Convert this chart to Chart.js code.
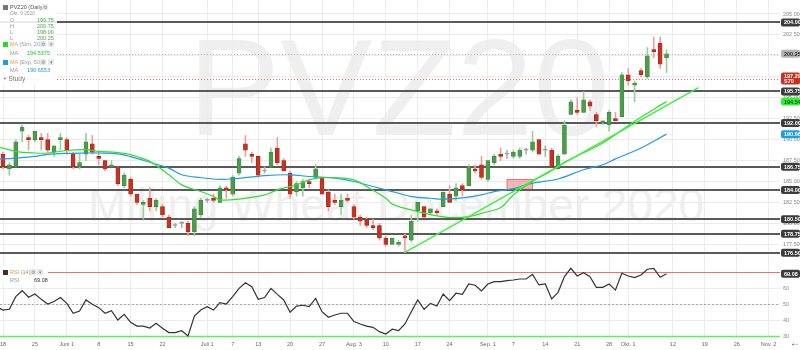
<!DOCTYPE html>
<html>
<head>
<meta charset="utf-8">
<title>PVZ20 Daily</title>
<script src="https://cdn.jsdelivr.net/npm/chart.js@4.4.1/dist/chart.umd.min.js"></script>
<style>
  body { margin: 0; width: 800px; height: 350px; overflow: hidden; background: #fff; position: relative; font-family: "Liberation Sans", Arial, sans-serif; }
  .wm { position: absolute; color: #efefef; white-space: nowrap; line-height: 1; font-family: "Liberation Sans", Arial, sans-serif; }
  #wm1 { left: 188px; top: 18px; font-size: 138px; }
  #wm2 { left: 88px; top: 182px; font-size: 46px; }
  canvas { position: absolute; left: 0; }
  .leg { position: absolute; left: 0; background: rgba(255,255,255,0.88); }
  .leg span { position: absolute; white-space: nowrap; line-height: 1; font-size: 5.5px; color: #999; }
  .leg .sq { width: 5px; height: 5px; }
  .leg .btn { width: 6px; height: 6px; background: #e8e8e8; border-radius: 1px; color: #888; font-size: 5px; text-align: center; line-height: 6px; }
  .leg .or { color: #f0a040; font-weight: normal; }
  #arrow { position: absolute; left: 790px; top: 337px; font-size: 10px; color: #444; font-weight: bold; }
</style>
</head>
<body>
<div class="wm" id="wm1">PVZ20</div>
<div class="wm" id="wm2">Milling Wheat December 2020</div>
<canvas id="price" width="800" height="262" style="top:0"></canvas>
<canvas id="rsi" width="800" height="88" style="top:262px"></canvas>

<div class="leg" style="top:0;width:57px;height:85px">
  <span class="sq" style="left:3px;top:5px;background:#777"></span>
  <span style="left:10px;top:5px;color:#555">PVZ20 (Daily)</span>
  <span class="btn" style="left:42px;top:4px">⚙</span>
  <span style="left:10px;top:12px;font-size:4.8px">Okt. 9 2020</span>
  <span style="left:10px;top:18px">O</span><span style="left:37px;top:18px;color:#4aa84a">199.75</span>
  <span style="left:10px;top:24px">H</span><span style="left:37px;top:24px;color:#4aa84a">200.75</span>
  <span style="left:10px;top:30px">L</span><span style="left:37px;top:30px;color:#4aa84a">198.00</span>
  <span style="left:10px;top:36px">L</span><span style="left:37px;top:36px;color:#4aa84a">200.25</span>
  <span class="sq" style="left:3px;top:42px;background:#22e022"></span>
  <span style="left:10px;top:42px"><b class="or">MA</b> (Sim, 20)</span>
  <span class="btn" style="left:40px;top:41px">⚙</span><span class="btn" style="left:48px;top:41px">▾</span>
  <span style="left:10px;top:51px">MA</span><span style="left:27px;top:51px;color:#22cc22">194.5375</span>
  <span class="sq" style="left:3px;top:60px;background:#1e9ee0"></span>
  <span style="left:10px;top:60px"><b class="or">MA</b> (Exp, 50)</span>
  <span class="btn" style="left:40px;top:59px">⚙</span><span class="btn" style="left:48px;top:59px">▾</span>
  <span style="left:10px;top:68px">MA</span><span style="left:27px;top:68px;color:#1e9ee0">190.6553</span>
  <span style="left:3px;top:76px;font-size:6.5px;color:#777">+ Study</span>
</div>

<div class="leg" style="top:266px;width:48px;height:18px">
  <span class="sq" style="left:3px;top:4px;background:#333"></span>
  <span style="left:10px;top:4px"><b class="or">RSI</b> (14)</span>
  <span class="btn" style="left:30px;top:3px">⚙</span><span class="btn" style="left:37px;top:3px">▾</span>
  <span style="left:10px;top:12px">RSI</span><span style="left:34px;top:12px;color:#333">69.08</span>
</div>
<div id="arrow">←</div>

<script>
// trading days counted from Mon 18 May 2020 (index 0) to Fri 9 Oct 2020 (index 104)
const opens  = [188.25,186.5,186.75,191.0,190.25,190.0,190.25,190.0,188.5,190.0,190.0,188.25,186.75,188.25,189.5,188.0,187.5,186.75,186.75,184.5,
                185.25,183.5,182.25,183.0,182.0,182.0,180.75,179.75,180.0,180.0,179.0,181.0,182.75,183.0,182.5,184.25,183.5,186.0,189.5,188.25,
                188.0,186.25,186.75,189.0,187.5,186.0,183.75,184.25,185.0,185.5,185.5,183.75,182.75,182.0,183.0,182.0,180.75,180.5,179.75,179.75,
                178.25,177.5,177.5,178.5,178.0,181.5,182.0,181.25,181.5,182.0,183.5,183.25,184.5,184.5,186.5,187.0,185.25,187.25,188.25,188.25,
                188.0,188.0,188.75,188.75,190.0,188.75,188.75,186.5,188.25,193.0,193.5,193.25,194.5,193.0,192.0,191.75,192.5,192.75,197.75,196.5,
                198.25,197.5,200.75,201.5,199.75];
const highs  = [188.5,187.25,190.0,191.75,190.5,191.0,190.75,190.75,189.25,190.75,190.25,188.5,188.25,190.75,190.5,188.5,187.5,187.5,186.75,186.0,
                185.5,183.5,182.75,184.25,183.0,182.25,181.0,180.0,180.25,180.25,182.0,183.0,183.0,183.5,184.5,184.5,185.75,188.0,190.5,188.5,
                188.0,186.75,189.0,190.25,187.75,186.25,185.0,185.25,185.25,187.0,185.5,184.0,183.5,183.5,183.5,182.25,181.0,180.75,180.5,180.0,
                178.5,178.25,178.0,178.75,181.0,182.5,182.0,181.75,181.75,183.75,184.5,184.75,184.75,187.0,187.0,188.0,187.5,188.25,189.0,188.75,
                188.75,189.0,189.0,191.0,190.0,189.25,189.0,188.25,192.25,194.75,195.0,195.75,194.75,193.25,192.25,193.5,193.25,198.0,198.5,197.0,
                198.5,201.0,202.25,202.25,200.75];
const lows   = [186.5,185.75,186.75,189.75,188.75,189.75,188.75,188.5,188.0,188.75,188.25,186.5,186.5,187.5,188.25,187.0,186.25,186.75,184.5,184.25,
                183.25,182.25,180.5,181.5,181.5,180.75,179.5,179.5,179.5,178.5,178.5,180.75,182.5,182.5,182.5,183.0,183.25,185.75,188.0,187.25,
                185.5,186.0,186.75,187.0,186.25,183.0,183.25,183.25,184.25,185.25,183.5,181.5,182.25,181.0,182.5,180.5,179.75,179.5,179.25,178.0,
                177.25,177.5,177.25,176.5,177.75,180.25,180.75,181.0,181.0,182.0,182.5,182.75,183.25,184.5,186.0,185.25,185.0,187.0,187.5,187.75,
                187.75,187.75,188.25,188.5,188.25,188.0,186.75,186.5,188.25,193.0,193.0,193.25,193.5,191.5,191.75,191.0,192.25,192.75,196.5,194.5,
                197.5,197.25,199.75,198.5,198.0];
const closes = [186.75,187.0,189.75,191.5,190.0,191.0,190.0,188.75,189.25,190.25,188.75,186.75,187.25,189.75,188.5,187.75,186.5,187.0,184.75,185.75,
                183.5,182.5,182.5,182.0,182.75,181.0,179.5,179.75,180.0,179.0,181.75,182.75,182.75,182.75,184.25,184.0,185.5,187.75,188.75,188.0,
                185.75,186.25,188.5,187.25,186.25,183.5,184.75,185.0,184.75,186.5,183.5,182.0,182.5,182.75,182.75,180.75,180.25,179.75,179.5,178.25,
                177.5,178.25,177.75,178.25,180.25,182.5,180.75,181.75,181.25,183.75,182.5,184.25,184.0,186.75,186.25,185.5,187.5,188.0,188.0,188.25,
                188.5,188.75,188.75,189.75,188.25,188.75,186.75,188.0,191.75,194.5,193.25,194.75,194.0,192.25,192.25,193.25,192.25,197.75,197.0,196.75,
                197.75,200.0,200.5,199.0,200.25];

// MA (Sim, 20) and MA (Exp, 50) at these day indices
const smaIdx = [-1,2,5,7,10,13,15,18,20,23,26,28,31,33,34,37,41,43,46,48,50,52,55,57,60,61,65,68,70,73,75,78,80,83,86,88,94,99,104];
const smaVal = [189.2,188.6,188.4,188.4,188.7,188.8,188.6,188.45,188.2,187.4,185.8,184.6,183.8,183.2,182.8,182.9,183.4,184.0,184.6,185.2,185.45,185.45,185.2,184.4,183.0,182.3,
                181.4,180.9,180.7,180.8,181.2,181.9,183.4,185.0,186.3,187.3,189.6,192.2,194.5375];
const emaIdx = [-1,2,5,7,10,13,15,18,20,23,26,28,31,34,36,41,45,48,52,55,58,62,64,67,69,72,75,77,80,83,87,91,94,96,100,104];
const emaVal = [187.65,187.8,188.0,188.25,188.37,188.4,188.4,188.3,187.97,187.3,186.6,185.8,185.45,185.25,185.3,185.7,185.8,185.6,185.4,185.0,184.4,183.6,
                183.2,183.0,182.9,183.05,183.4,183.8,184.15,184.8,185.3,186.4,187.0,187.7,189.0,190.6553];

// RSI (14), first value belongs to day -1
const rsiStart = -1;
const rsiVal = [48.5,
  46.4,46.9,54.8,58.5,54.4,56.4,53.1,50.2,51.7,54.2,50.6,44.4,45.8,52.7,50.0,47.9,44.4,46.0,40.2,43.7,
  38.7,36.4,36.4,35.2,38.1,35.0,32.3,32.3,33.5,30.2,42.7,46.4,48.5,46.4,51.0,50.2,54.8,60.0,63.5,61.0,
  53.1,54.2,60.0,56.2,52.7,45.0,48.9,49.4,48.5,53.7,45.4,41.9,43.3,44.4,44.4,39.2,37.7,36.4,35.6,32.9,
  31.4,34.4,33.5,37.7,45.4,52.7,46.9,50.6,48.9,56.4,52.3,56.9,56.2,62.7,61.9,58.3,62.7,64.2,64.2,64.8,
  65.2,65.8,65.8,68.7,62.1,62.7,53.3,57.5,67.3,72.5,67.7,69.8,67.3,60.6,60.6,62.7,58.9,69.4,67.7,66.7,
  68.3,71.9,72.5,66.9,69.08];

// drawn studies
const trendIdx = [63, 109];
const trendVal = [176.55, 196.2];
const boxIdx = [79, 83];
const boxVal = [184.0, 185.25];

// horizontal levels and last values
const priceLevels = [204.00, 195.75, 192.00, 186.75, 184.00, 180.50, 178.75, 176.50];
const lastClose = 200.25;
const rsi70Price = 197.29;
const rsiLast = 69.08;
const rsiLevels = [70, 50, 30];

// axis ticks
const priceTicks = [177.5, 180, 182.5, 185, 187.5, 190, 192.5, 195, 197.5, 200, 202.5, 205];
const rsiTicks = [30, 40, 50, 60, 70];
const tickIdx  = [0, 5, 10, 15, 20, 25, 32, 36, 40, 45, 50, 55, 60, 65, 70, 76, 80, 85, 90, 95, 98, 105, 110, 115, 120];
const tickText = ['18','25','Juni 1','8','15','22','Juli 1','7','13','20','27','Aug. 3','10','17','24','Sep. 1','7','14','21','28','Okt. 1','12','19','26','Nov. 2'];

Chart.defaults.font.family = '"Liberation Sans", Arial, sans-serif';
Chart.defaults.font.size = 5.5;
Chart.defaults.animation = false;

const AREA_RIGHT = 780;
const DAY_PX = 6.38;
const xMin = -3 / DAY_PX;
const xMax = xMin + AREA_RIGHT / DAY_PX;
const gridCol = '#ececec';

// price panel: 205 sits 14px below the top, 8.375px per point, 262px tall
const PX_PER_PT = 8.375;
const priceMax = 205 + 14 / PX_PER_PT;
const priceMin = priceMax - 262 / PX_PER_PT;
// rsi panel: 70 sits 10.3px below the top, 1.6px per point, 76px tall
const PX_PER_RSI = 1.6;
const rsiMax = 70 + 10.3 / PX_PER_RSI;
const rsiMin = rsiMax - 76 / PX_PER_RSI;

const up = '#4c9c4c', upEdge = '#3b843b', upWick = '#9ccf9c';
const dn = '#c8301f', dnEdge = '#a3231a', dnWick = '#e8a39c';
const flat = '#999';

const days = opens.map((o, i) => i);
const kind = days.map(i => closes[i] > opens[i] ? 1 : closes[i] < opens[i] ? -1 : 0);

function tag(ctx, xL, py, text, bg, fg, text2) {
  const h = text2 ? 12 : 8;
  ctx.fillStyle = bg;
  ctx.beginPath();
  ctx.roundRect(xL, py - h / 2, 800 - xL, h, 2);
  ctx.fill();
  ctx.fillStyle = fg;
  ctx.font = 'bold 5.5px "Liberation Sans", Arial, sans-serif';
  ctx.textAlign = 'left';
  ctx.textBaseline = 'middle';
  if (text2) {
    ctx.fillText(text, xL + 3, py - 2.5);
    ctx.fillText(text2, xL + 3, py + 3);
  } else {
    ctx.fillText(text, xL + 3, py + 0.5);
  }
}

function hline(ctx, area, py, color, width, dash) {
  ctx.strokeStyle = color;
  ctx.lineWidth = width;
  ctx.setLineDash(dash || []);
  ctx.beginPath();
  ctx.moveTo(area.left, py);
  ctx.lineTo(area.right, py);
  ctx.stroke();
}

// levels, the pink zone and the right-hand value tags
const overlay = {
  id: 'overlay',
  beforeDatasetsDraw(chart) {
    const { ctx, chartArea: a, scales: { x, y } } = chart;
    ctx.save();
    if (chart.canvas.id === 'price') {
      const x0 = x.getPixelForValue(boxIdx[0]), x1 = x.getPixelForValue(boxIdx[1]);
      const y0 = y.getPixelForValue(boxVal[1]), y1 = y.getPixelForValue(boxVal[0]);
      ctx.fillStyle = 'rgba(245,130,130,0.6)';
      ctx.fillRect(x0, y0, x1 - x0, y1 - y0);
      ctx.strokeStyle = '#e06060';
      ctx.lineWidth = 0.8;
      ctx.strokeRect(x0, y0, x1 - x0, y1 - y0);
      hline(ctx, a, Math.round(y.getPixelForValue(lastClose)) + 0.5, '#b8b8b8', 1, [1, 2]);
      hline(ctx, a, Math.round(y.getPixelForValue(rsi70Price)) + 0.5, '#e07a7a', 1, [1, 2]);
      priceLevels.forEach(v => hline(ctx, a, Math.round(y.getPixelForValue(v)), '#5a5a5a', 2));
    } else {
      hline(ctx, a, Math.round(y.getPixelForValue(rsiLevels[0])) + 0.5, '#f07070', 1);
      hline(ctx, a, Math.round(y.getPixelForValue(rsiLevels[1])) + 0.5, '#aaa', 1, [2, 2]);
      hline(ctx, a, Math.round(y.getPixelForValue(rsiLevels[2])) + 0.5, '#5ef05e', 1.5);
    }
    ctx.restore();
  },
  afterDraw(chart) {
    const { ctx, chartArea: a, scales: { y } } = chart;
    const xL = a.right + 1;
    ctx.save();
    if (chart.canvas.id === 'price') {
      priceLevels.forEach(v => tag(ctx, xL, y.getPixelForValue(v), v.toFixed(2), '#3c3c3c', '#fff'));
      tag(ctx, xL, y.getPixelForValue(lastClose), lastClose.toFixed(2), '#b5b5b5', '#333');
      tag(ctx, xL, y.getPixelForValue(rsi70Price), rsi70Price.toFixed(2), '#c8301f', '#fff', 'S70');
      tag(ctx, xL, y.getPixelForValue(smaVal[smaVal.length - 1]), smaVal[smaVal.length - 1].toFixed(2), '#33ee33', '#1a4d1a');
      tag(ctx, xL, y.getPixelForValue(emaVal[emaVal.length - 1]), emaVal[emaVal.length - 1].toFixed(2), '#1e9ee0', '#fff');
    } else {
      tag(ctx, xL, y.getPixelForValue(rsiLast), rsiLast.toFixed(2), '#3c3c3c', '#fff');
    }
    ctx.restore();
  }
};

function xScale(showLabels) {
  return {
    type: 'linear', min: xMin, max: xMax, offset: false,
    afterBuildTicks: s => { s.ticks = tickIdx.map(v => ({ value: v })); },
    ticks: { display: showLabels, autoSkip: false, maxRotation: 0, color: '#666', padding: 3,
             callback: (v, k) => tickText[k] },
    grid: { color: gridCol, drawTicks: false, offset: false },
    border: { display: false },
    afterFit: s => { s.height = showLabels ? 12 : 0; s.paddingLeft = 0; s.paddingRight = 0; }
  };
}

function yScale(min, max, ticks, fmt) {
  return {
    position: 'right', min, max,
    afterBuildTicks: s => { s.ticks = ticks.map(v => ({ value: v })); },
    ticks: { color: '#888', padding: 3, callback: fmt },
    grid: { color: gridCol, drawTicks: false },
    border: { display: false },
    afterFit: s => { s.width = 800 - AREA_RIGHT; s.paddingTop = 0; s.paddingBottom = 0; }
  };
}

const line = (xs, ys, color, width, tension) => ({
  type: 'line',
  data: xs.map((v, k) => ({ x: v, y: ys[k] })),
  borderColor: color, borderWidth: width, pointRadius: 0, tension, fill: false
});

// price panel
new Chart(document.getElementById('price'), {
  type: 'bar',
  data: {
    datasets: [
      line(trendIdx, trendVal, '#3cf03c', 1.4, 0),
      line(smaIdx, smaVal, '#30e030', 1.2, 0.35),
      line(emaIdx, emaVal, '#1e9ee0', 1.2, 0.35),
      {
        data: days.map(i => ({ x: i, y: [opens[i], closes[i]] })),
        backgroundColor: kind.map(k => k > 0 ? up : k < 0 ? dn : flat),
        borderColor: kind.map(k => k > 0 ? upEdge : k < 0 ? dnEdge : flat),
        borderWidth: 0.6, borderSkipped: false, barThickness: 4, minBarLength: 1, grouped: false
      },
      {
        data: days.map(i => ({ x: i, y: [lows[i], highs[i]] })),
        backgroundColor: kind.map(k => k > 0 ? upWick : k < 0 ? dnWick : '#b0b0b0'),
        borderWidth: 0, barThickness: 1, grouped: false
      }
    ]
  },
  options: {
    responsive: false, devicePixelRatio: 1,
    layout: { padding: 0 },
    plugins: { legend: { display: false }, tooltip: { enabled: false } },
    events: [],
    scales: {
      x: xScale(false),
      y: yScale(priceMin, priceMax, priceTicks, v => v.toFixed(2))
    }
  },
  plugins: [overlay]
});

// RSI panel
new Chart(document.getElementById('rsi'), {
  type: 'line',
  data: {
    datasets: [line(rsiVal.map((v, k) => rsiStart + k), rsiVal, '#333', 1.2, 0)]
  },
  options: {
    responsive: false, devicePixelRatio: 1,
    layout: { padding: 0 },
    plugins: { legend: { display: false }, tooltip: { enabled: false } },
    events: [],
    scales: {
      x: xScale(true),
      y: yScale(rsiMin, rsiMax, rsiTicks, v => (v === 70 ? '' : v))
    }
  },
  plugins: [overlay]
});
</script>
</body>
</html>
